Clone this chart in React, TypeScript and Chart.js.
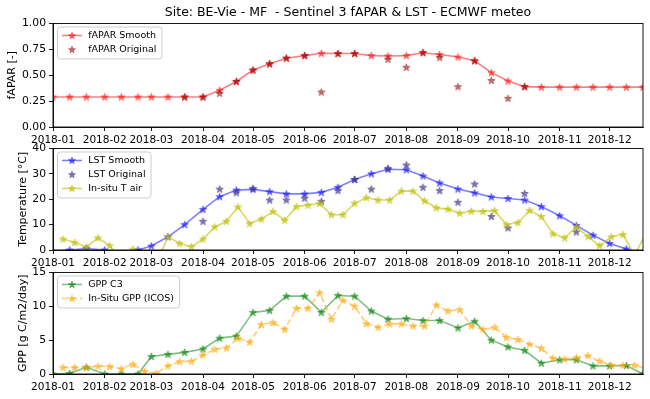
import React, { useEffect, useRef } from 'react';
import { Chart, registerables } from 'chart.js';

Chart.register(...registerables);

const TITLE = 'Site: BE-Vie - MF  - Sentinel 3 fAPAR & LST - ECMWF meteo';

const monthLabels = ['2018-01', '2018-02', '2018-03', '2018-04', '2018-05', '2018-06', '2018-07', '2018-08', '2018-09', '2018-10', '2018-11', '2018-12'];
const axisEnd = '2018-12-21';

const dekadDates = [
  '2018-01-01', '2018-01-11', '2018-01-21', '2018-02-01', '2018-02-11', '2018-02-21',
  '2018-03-01', '2018-03-11', '2018-03-21', '2018-04-01', '2018-04-11', '2018-04-21',
  '2018-05-01', '2018-05-11', '2018-05-21', '2018-06-01', '2018-06-11', '2018-06-21',
  '2018-07-01', '2018-07-11', '2018-07-21', '2018-08-01', '2018-08-11', '2018-08-21',
  '2018-09-01', '2018-09-11', '2018-09-21', '2018-10-01', '2018-10-11', '2018-10-21',
  '2018-11-01', '2018-11-11', '2018-11-21', '2018-12-01', '2018-12-11', '2018-12-21',
];

const weekDates = [
  '2018-01-07', '2018-01-14', '2018-01-21', '2018-01-28', '2018-02-04', '2018-02-11', '2018-02-18', '2018-02-25',
  '2018-03-04', '2018-03-11', '2018-03-18', '2018-03-25', '2018-04-01', '2018-04-08', '2018-04-15', '2018-04-22',
  '2018-04-29', '2018-05-06', '2018-05-13', '2018-05-20', '2018-05-27', '2018-06-03', '2018-06-10', '2018-06-17',
  '2018-06-24', '2018-07-01', '2018-07-08', '2018-07-15', '2018-07-22', '2018-07-29', '2018-08-05', '2018-08-12',
  '2018-08-19', '2018-08-26', '2018-09-02', '2018-09-09', '2018-09-16', '2018-09-23', '2018-09-30', '2018-10-07',
  '2018-10-14', '2018-10-21', '2018-10-28', '2018-11-04', '2018-11-11', '2018-11-18', '2018-11-25', '2018-12-02',
  '2018-12-09', '2018-12-16', '2018-12-23',
];

const faparSmooth = [
  0.29, 0.29, 0.29, 0.29, 0.29, 0.29, 0.29, 0.29, 0.29, 0.29,
  0.355, 0.44, 0.55, 0.61, 0.665, 0.69, 0.712, 0.71, 0.71, 0.69,
  0.686, 0.69, 0.718, 0.70, 0.676, 0.64, 0.525, 0.444, 0.39,
  0.385, 0.385, 0.385, 0.385, 0.385, 0.385, 0.385,
];

const faparOriginal = [
  null, null, null, null, null, null, null, null, 0.29, 0.29,
  0.325, 0.44, 0.55, 0.61, 0.665, 0.69, 0.338, 0.71, 0.71, null,
  0.654, 0.577, 0.718, 0.673, 0.39, 0.64, 0.45, 0.277, 0.39,
  null, null, null, null, null, null, null,
];

const lstSmooth = [
  -0.5, 0, 0.6, 0, -1.5, 0, 1.6, 5.2, 10.0, 16.0, 21.0, 23.6,
  23.9, 23.0, 22.1, 22.1, 22.7, 24.7, 27.8, 30.0, 31.8, 31.6, 29.2, 26.4,
  24.0, 22.5, 20.9, 20.3, 19.7, 17.1, 13.5, 9.7, 5.8, 2.6, 0.4, -2,
];

const lstOriginal = [
  null, null, null, null, null, null, null, null, null, 11.3, 24.0, 22.6,
  24.3, 19.7, 19.7, 20.4, 19.2, 23.4, 27.8, 24.0, 32.2, 33.5, 24.7, 23.4,
  18.8, 26.0, 13.2, 8.7, 22.3, null, null, 7.1, null, null, null, null,
];

const tairInsitu = [
  4.3, 3.0, 1.2, 4.8, 1.7, -3.5, 0.3, -3, -5, 5.2,
  2.6, 1.3, 4.3, 9.1, 11.3, 17.0, 10.4, 12.2, 15.2, 11.7,
  17.1, 17.7, 18.3, 13.9, 13.9, 18.4, 20.6, 19.7, 19.7, 23.2,
  23.2, 19.4, 16.6, 16.1, 14.5, 15.3, 15.2, 15.5, 10.0, 10.8,
  15.6, 13.2, 6.4, 4.8, 9.1, 5.3, 1.7, 5.2, 6.1, -2, 7,
];

const gppC3 = [
  0, 0.1, 1.0, 0, 0, 0, 2.6, 2.9, 3.2, 3.7, 5.3, 5.6,
  9.1, 9.4, 11.5, 11.5, 9.1, 11.6, 11.5, 9.3, 8.1, 8.2, 7.9, 7.9,
  6.8, 7.8, 5.0, 4.0, 3.5, 1.6, 2.1, 2.1, 1.2, 1.2, 1.25, 0,
];

const gppInsitu = [
  0.96, 0.96, 0.96, 1.15, 1.1, 0.77, 1.44, 0.38, 0.1, 1.2,
  1.83, 1.88, 2.8, 3.65, 3.85, 5.3, 4.7, 7.3, 7.6, 6.6,
  9.7, 9.7, 12.0, 8.1, 10.9, 10.0, 7.45, 6.9, 7.4, 7.4,
  7.1, 7.1, 10.2, 9.3, 9.5, 7.1, 6.6, 6.9, 5.4, 5.1,
  4.4, 3.8, 2.3, 2.2, 2.4, 2.7, 1.9, 1.3, 1.3, 1.3, 0.76,
];

const FONT = "'DejaVu Sans', sans-serif";
const DAY0 = Date.UTC(2018, 0, 1);
const toDay = (s: string) => {
  const [y, m, d] = s.split('-').map(Number);
  return (Date.UTC(y, m - 1, d) - DAY0) / 86400000;
};
const monthDays = monthLabels.map((m) => toDay(m + '-01'));
const X_MAX = toDay(axisEnd);

const pts = (dates: string[], vals: (number | null)[]) => dates.map((d, i) => ({ x: toDay(d), y: vals[i] }));

function starPath(ctx: CanvasRenderingContext2D, cx: number, cy: number, R: number) {
  const r = R * 0.382;
  ctx.beginPath();
  for (let i = 0; i < 10; i++) {
    const rad = i % 2 === 0 ? R : r;
    const a = -Math.PI / 2 + (i * Math.PI) / 5;
    const px = cx + rad * Math.cos(a);
    const py = cy + rad * Math.sin(a);
    if (i === 0) ctx.moveTo(px, py);
    else ctx.lineTo(px, py);
  }
  ctx.closePath();
}

function drawStar(ctx: CanvasRenderingContext2D, cx: number, cy: number, R: number, color: string) {
  starPath(ctx, cx, cy, R);
  ctx.fillStyle = color;
  ctx.fill();
  ctx.strokeStyle = color;
  ctx.lineWidth = 0.8;
  ctx.stroke();
}

function makeStar(color: string, R = 3.9) {
  const size = Math.ceil(R * 2 + 3);
  const c = document.createElement('canvas');
  c.width = size;
  c.height = size;
  const ctx = c.getContext('2d')!;
  drawStar(ctx, size / 2, size / 2 + 0.3, R, color);
  return c;
}

type LegendItem = { label: string; line?: string; dash?: number[]; star: string };

function makeLegend(items: LegendItem[]) {
  return {
    id: 'mplLegend',
    afterDraw(chart: any) {
      const { ctx, chartArea: a } = chart;
      ctx.save();
      ctx.font = `9.5px ${FONT}`;
      let maxW = 0;
      items.forEach((it) => { maxW = Math.max(maxW, ctx.measureText(it.label).width); });
      const left = a.left + 4.5;
      const top = a.top + 3.5;
      const w = 30.7 + maxW + 5.5;
      const h = 18 + 14 * (items.length - 1);
      ctx.beginPath();
      (ctx as any).roundRect(left, top, w, h, 3);
      ctx.fillStyle = 'rgba(255,255,255,0.8)';
      ctx.fill();
      ctx.strokeStyle = '#cccccc';
      ctx.lineWidth = 1;
      ctx.stroke();
      items.forEach((it, i) => {
        const y = top + 8.5 + 14 * i;
        if (it.line) {
          ctx.save();
          ctx.strokeStyle = it.line;
          ctx.lineWidth = 1.6;
          ctx.setLineDash(it.dash || []);
          ctx.beginPath();
          ctx.moveTo(left + 4.5, y);
          ctx.lineTo(left + 24.5, y);
          ctx.stroke();
          ctx.restore();
        }
        drawStar(ctx, left + 14.5, y + 0.3, 3.6, it.star);
        ctx.fillStyle = '#000';
        ctx.textBaseline = 'middle';
        ctx.textAlign = 'left';
        ctx.fillText(it.label, left + 30.7, y + 0.5);
      });
      ctx.restore();
    },
  };
}

const framePlugin = {
  id: 'frame',
  afterDatasetsDraw(chart: any) {
    const { ctx, chartArea: a } = chart;
    ctx.save();
    ctx.strokeStyle = '#000';
    ctx.lineWidth = 0.9;
    ctx.strokeRect(a.left, a.top, a.right - a.left, a.bottom - a.top);
    ctx.restore();
  },
};

function xScale(height: number) {
  return {
    type: 'linear',
    min: 0,
    max: X_MAX,
    afterBuildTicks: (s: any) => { s.ticks = monthDays.map((v) => ({ value: v })); },
    afterFit: (s: any) => { s.height = height; },
    ticks: {
      autoSkip: false, maxRotation: 0, minRotation: 0, padding: 3, color: '#000',
      font: { size: 10.5, family: FONT },
      callback: (_v: any, i: number) => monthLabels[i],
    },
    grid: { display: true, drawOnChartArea: false, drawTicks: true, tickLength: 4, color: '#000', lineWidth: 0.9 },
    border: { display: true, color: '#000', width: 0.9 },
  };
}

function yScale(min: number, max: number, step: number, title: string, titlePad: number, fmt: (v: number) => string) {
  return {
    type: 'linear',
    min, max,
    afterFit: (s: any) => { s.width = 53; },
    ticks: { stepSize: step, color: '#000', padding: 3, font: { size: 10.8, family: FONT }, callback: (v: any) => fmt(Number(v)) },
    title: { display: true, text: title, color: '#000', font: { size: 11, family: FONT }, padding: { top: titlePad, bottom: 0 } },
    grid: { display: true, drawOnChartArea: false, drawTicks: true, tickLength: 4, color: '#000', lineWidth: 0.9 },
    border: { display: true, color: '#000', width: 0.9 },
  };
}

function lineDs(data: any[], line: string | null, star: string, dash?: number[]) {
  return {
    data,
    showLine: !!line,
    borderColor: line || 'transparent',
    borderWidth: 1.6,
    borderDash: dash || [],
    pointStyle: makeStar(star),
    pointRadius: 3.5,
    pointHoverRadius: 3.5,
    spanGaps: false,
    tension: 0,
  };
}

function baseOptions(padTop: number, xH: number, y: any, title?: any) {
  return {
    responsive: false,
    maintainAspectRatio: false,
    animation: false,
    events: [],
    layout: { padding: { top: padTop, left: 0, right: 7, bottom: 0 } },
    plugins: {
      legend: { display: false },
      tooltip: { enabled: false },
      title: title || { display: false },
    },
    scales: { x: xScale(xH), y },
  };
}

export default function App() {
  const r1 = useRef<HTMLCanvasElement>(null);
  const r2 = useRef<HTMLCanvasElement>(null);
  const r3 = useRef<HTMLCanvasElement>(null);

  useEffect(() => {
    Chart.defaults.font.family = FONT;
    Chart.defaults.color = '#000';

    const c1 = new Chart(r1.current!, {
      type: 'line',
      data: {
        datasets: [
          lineDs(pts(dekadDates, faparOriginal), null, 'rgba(139,0,0,0.55)'),
          lineDs(pts(dekadDates, faparSmooth), 'rgba(255,0,0,0.5)', 'rgba(255,0,0,0.55)'),
        ],
      },
      options: baseOptions(0, 18, yScale(0, 1, 0.25, 'fAPAR [-]', 5.9, (v) => v.toFixed(2)), {
        display: true, text: TITLE, fullSize: false, color: '#000',
        font: { size: 12.5, weight: 'normal', family: FONT, lineHeight: 1.2 },
        padding: { top: 5, bottom: 3.5 },
      }) as any,
      plugins: [framePlugin, makeLegend([
        { label: 'fAPAR Smooth', line: 'rgba(255,0,0,0.5)', star: 'rgba(255,0,0,0.55)' },
        { label: 'fAPAR Original', star: 'rgba(139,0,0,0.55)' },
      ])],
    } as any);

    const c2 = new Chart(r2.current!, {
      type: 'line',
      data: {
        datasets: [
          lineDs(pts(weekDates, tairInsitu), 'rgba(191,191,0,0.6)', 'rgba(191,191,0,0.65)'),
          lineDs(pts(dekadDates, lstOriginal), null, 'rgba(72,61,139,0.7)'),
          lineDs(pts(dekadDates, lstSmooth), 'rgba(0,0,255,0.5)', 'rgba(0,0,255,0.55)'),
        ],
      },
      options: baseOptions(8, 18, yScale(0, 40, 10, 'Temperature [°C]', 16.4, (v) => String(Math.round(v)))) as any,
      plugins: [framePlugin, makeLegend([
        { label: 'LST Smooth', line: 'rgba(0,0,255,0.5)', star: 'rgba(0,0,255,0.55)' },
        { label: 'LST Original', star: 'rgba(72,61,139,0.7)' },
        { label: 'In-situ T air', line: 'rgba(191,191,0,0.6)', star: 'rgba(191,191,0,0.65)' },
      ])],
    } as any);

    const c3 = new Chart(r3.current!, {
      type: 'line',
      data: {
        datasets: [
          lineDs(pts(weekDates, gppInsitu), 'rgba(255,165,0,0.55)', 'rgba(255,165,0,0.6)', [6, 3]),
          lineDs(pts(dekadDates, gppC3), 'rgba(0,128,0,0.5)', 'rgba(0,128,0,0.6)'),
        ],
      },
      options: baseOptions(9, 25, yScale(0, 15, 5, 'GPP [g C/m2/day]', 16.4, (v) => String(Math.round(v)))) as any,
      plugins: [framePlugin, makeLegend([
        { label: 'GPP C3', line: 'rgba(0,128,0,0.5)', star: 'rgba(0,128,0,0.6)' },
        { label: 'In-Situ GPP (ICOS)', line: 'rgba(255,165,0,0.55)', dash: [6, 3], star: 'rgba(255,165,0,0.6)' },
      ])],
    } as any);

    return () => { c1.destroy(); c2.destroy(); c3.destroy(); };
  }, []);

  const cs = (top: number, h: number): React.CSSProperties => ({ position: 'absolute', left: 0, top, width: 650, height: h, display: 'block' });

  return (
    <div style={{ position: 'absolute', left: 0, top: 0, width: 650, height: 399, background: '#fff' }}>
      <canvas ref={r1} width={650} height={145} style={cs(0, 145)} />
      <canvas ref={r2} width={650} height={129} style={cs(139, 129)} />
      <canvas ref={r3} width={650} height={136} style={cs(263, 136)} />
    </div>
  );
}
